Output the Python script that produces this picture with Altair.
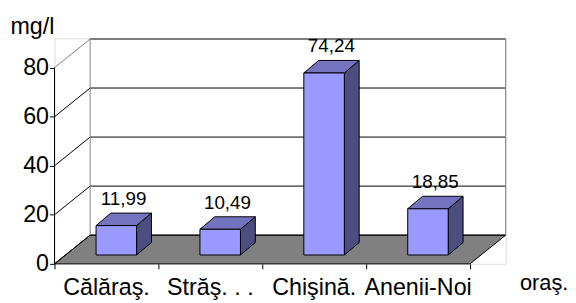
import altair as alt
import pandas as pd

# ---- data ----
cities = ["Călăraş.", "Străş. . .", "Chişină.", "Anenii-Noi"]
values = [11.99, 10.49, 74.24, 18.85]
labels = ["11,99", "10,49", "74,24", "18,85"]
y_ticks = [0, 20, 40, 60, 80]
x_ticks = [0, 1, 2, 3, 4]

# ---- 3D projection style parameters (data units) ----
DX, DY = 0.343, 11.7          # depth of the floor / walls
BX0, BX1 = 0.40, 0.79         # bar front face within a category
BASE = 3.6                    # bar front bottom (depth offset)
BDX, BDY = 0.143, 5.1         # bar depth
N = len(cities)
XMAX = N + DX
YMAX = 92
FONT = "Liberation Sans"

xs = alt.Scale(domain=[0, XMAX], nice=False, zero=False)
ys = alt.Scale(domain=[0, YMAX], nice=False, zero=False)

# floor (horizontal parallelogram)
floor = pd.DataFrame({"y": [0, DY], "x": [0, DX], "x2": [N, N + DX]})
floor_m = alt.Chart(floor).mark_area(orient="horizontal", color="#808080",
                                     stroke="black", strokeWidth=1).encode(
    y=alt.Y("y:Q", scale=ys, axis=alt.Axis(values=y_ticks, title="mg/l", titleAngle=0,
            titleX=-45, titleY=-12, titleAlign="left", titleBaseline="middle",
            titleFont=FONT, titleFontSize=23.5, titleFontWeight="normal",
            titleColor="black", labelFont=FONT, labelFontSize=23.5,
            labelColor="black", tickColor="black", tickSize=5, labelPadding=1,
            domain=False, grid=False)),
    x=alt.X("x:Q", scale=xs, axis=alt.Axis(values=x_ticks, labels=False, title="oraş.",
            titleX=470, titleY=26, titleAlign="left", titleBaseline="alphabetic",
            titleFont=FONT, titleFontSize=22, titleFontWeight="normal",
            titleColor="black", tickColor="black", tickSize=5, domain=False, grid=False)),
    x2="x2:Q",
)

# back wall gridlines
grid = pd.DataFrame({"x": [DX] * len(y_ticks), "x2": [N + DX] * len(y_ticks),
                     "y": [v + DY for v in y_ticks]})
grid_m = alt.Chart(grid).mark_rule(color="black", strokeWidth=1).encode(
    x=alt.X("x:Q", scale=xs), x2="x2:Q", y=alt.Y("y:Q", scale=ys))

# wall border
border = pd.DataFrame({"x": [DX, N + DX, DX], "x2": [N + DX, N + DX, DX],
                       "y": [80 + DY, DY, DY], "y2": [80 + DY, 80 + DY, 80 + DY]})
border_m = alt.Chart(border).mark_rule(color="#808080", strokeWidth=1).encode(
    x=alt.X("x:Q", scale=xs), x2="x2:Q", y=alt.Y("y:Q", scale=ys), y2="y2:Q")

# left wall diagonals
diag = pd.DataFrame({"x": [0] * len(y_ticks), "x2": [DX] * len(y_ticks),
                     "y": y_ticks, "y2": [v + DY for v in y_ticks],
                     "c": ["#000000"] * (len(y_ticks) - 1) + ["#808080"]})
diag_m = alt.Chart(diag).mark_rule(strokeWidth=1).encode(
    x=alt.X("x:Q", scale=xs), x2="x2:Q", y=alt.Y("y:Q", scale=ys), y2="y2:Q",
    color=alt.Color("c:N", scale=None))

# front axis line
yaxis = pd.DataFrame({"x": [0], "y": [0], "y2": [max(y_ticks)]})
yaxis_m = alt.Chart(yaxis).mark_rule(color="black", strokeWidth=1).encode(
    x=alt.X("x:Q", scale=xs), y=alt.Y("y:Q", scale=ys), y2="y2:Q")

# bars
front_rows, top_rows, side_rows = [], [], []
for i, v in enumerate(values):
    x0, x1 = i + BX0, i + BX1
    front_rows.append({"b": i, "x": x0, "x2": x1, "y": BASE, "y2": BASE + v})
    top_rows.append({"b": i, "y": BASE + v, "x": x0, "x2": x1})
    top_rows.append({"b": i, "y": BASE + v + BDY, "x": x0 + BDX, "x2": x1 + BDX})
    side_rows.append({"b": i, "x": x1, "y": BASE, "y2": BASE + v})
    side_rows.append({"b": i, "x": x1 + BDX, "y": BASE + BDY, "y2": BASE + v + BDY})

side_m = alt.Chart(pd.DataFrame(side_rows)).mark_area(
    orient="vertical", color="#4d4d80", stroke="black", strokeWidth=1).encode(
    x=alt.X("x:Q", scale=xs), y=alt.Y("y:Q", scale=ys), y2="y2:Q", detail="b:N")
top_m = alt.Chart(pd.DataFrame(top_rows)).mark_area(
    orient="horizontal", color="#7373bf", stroke="black", strokeWidth=1).encode(
    y=alt.Y("y:Q", scale=ys), x=alt.X("x:Q", scale=xs), x2="x2:Q", detail="b:N")
front_m = alt.Chart(pd.DataFrame(front_rows)).mark_rect(
    color="#9999ff", stroke="black", strokeWidth=1).encode(
    x=alt.X("x:Q", scale=xs), x2="x2:Q", y=alt.Y("y:Q", scale=ys), y2="y2:Q")

# value labels
lab = pd.DataFrame({"x": [i + (BX0 + BX1) / 2 + 0.07 for i in range(N)],
                    "y": [v + 12 for v in values], "t": labels})
lab_m = alt.Chart(lab).mark_text(font=FONT, fontSize=19, color="black",
                                 baseline="alphabetic", align="center").encode(
    x=alt.X("x:Q", scale=xs), y=alt.Y("y:Q", scale=ys), text="t:N")

# category labels
cat = pd.DataFrame({"x": [i + 0.5 for i in range(N)], "y": [0] * N, "t": cities})
cat_m = alt.Chart(cat).mark_text(font=FONT, fontSize=23.5, color="black",
                                 baseline="alphabetic", align="center", dy=32).encode(
    x=alt.X("x:Q", scale=xs), y=alt.Y("y:Q", scale=ys), text="t:N")

chart = alt.layer(floor_m, grid_m, border_m, diag_m, yaxis_m, side_m, top_m, front_m,
                  lab_m, cat_m).properties(
    width=456, height=228,
    autosize=alt.AutoSizeParams(type="none"),
    padding={"left": 47, "top": 29, "right": 63, "bottom": 37},
).configure_view(stroke=None).configure(background="white")

chart.save("out.html", embed_options={"renderer": "svg", "actions": False})
